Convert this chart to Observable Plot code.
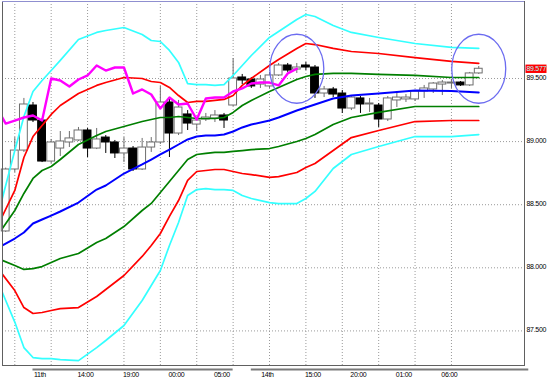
<!DOCTYPE html>
<html><head><meta charset="utf-8">
<script src="https://cdn.jsdelivr.net/npm/d3@7"></script>
<script src="https://cdn.jsdelivr.net/npm/@observablehq/plot@0.6"></script>
<style>
html,body{margin:0;padding:0;background:#fff;}
#chart svg{display:block;}
#chart text{letter-spacing:-0.3px;}
</style></head><body><div id="chart"></div>
<script>
// ---- candle data (hourly bars, index 0..52) ----
const opens  = [88.288,88.779,88.929,89.286,89.167,88.842,88.945,88.993,89.009,89.088,88.945,89.032,88.993,88.906,88.945,88.779,88.953,88.993,89.310,89.064,89.215,89.135,89.175,89.183,89.207,89.286,89.508,89.492,89.452,89.437,89.524,89.603,89.571,89.603,89.587,89.381,89.413,89.381,89.262,89.342,89.294,89.286,89.175,89.326,89.334,89.334,89.397,89.413,89.452,89.460,89.468,89.445,89.540];
const highs  = [88.790,89.032,89.342,89.310,89.183,89.017,89.080,89.080,89.112,89.104,89.104,89.048,89.009,89.032,88.961,89.025,89.032,89.437,89.349,89.326,89.246,89.191,89.223,89.246,89.223,89.658,89.532,89.508,89.524,89.548,89.619,89.619,89.619,89.627,89.603,89.437,89.429,89.405,89.365,89.357,89.342,89.302,89.357,89.381,89.373,89.405,89.445,89.468,89.484,89.492,89.476,89.548,89.595];
const lows   = [88.280,88.755,88.914,89.151,88.834,88.826,88.882,88.953,89.001,88.874,88.937,88.906,88.866,88.834,88.763,88.771,88.914,88.977,88.874,89.048,89.088,89.080,89.159,89.151,89.104,89.278,89.452,89.421,89.421,89.421,89.516,89.548,89.540,89.563,89.342,89.349,89.349,89.223,89.246,89.223,89.231,89.112,89.159,89.270,89.310,89.318,89.342,89.381,89.365,89.421,89.437,89.437,89.532];
const closes = [88.779,88.929,89.294,89.167,88.842,88.993,89.001,89.025,89.088,88.945,89.017,88.993,88.906,88.945,88.779,88.953,88.993,89.310,89.064,89.270,89.143,89.167,89.191,89.207,89.167,89.500,89.484,89.437,89.492,89.524,89.603,89.563,89.587,89.587,89.381,89.413,89.373,89.262,89.349,89.294,89.302,89.175,89.342,89.349,89.349,89.397,89.421,89.460,89.468,89.468,89.445,89.540,89.577];

// ---- Bollinger band lines, read at these bar positions ----
const bandBars = [-0.6,1,2,3,4,5,6,8,10,11,13,15,16,17,18,19,20,21,22,23,24,25,26,27,29,30,32,33,34,36,38,41,45,49,52];
const bandMid  = [88.169,88.232,88.280,88.351,88.383,88.414,88.446,88.517,88.620,88.652,88.747,88.819,88.858,88.898,88.937,88.977,89.017,89.040,89.048,89.048,89.056,89.080,89.112,89.135,89.167,89.191,89.246,89.270,89.294,89.342,89.365,89.381,89.405,89.401,89.389];
const bandUp1  = [88.288,88.454,88.589,88.708,88.771,88.803,88.858,88.977,89.048,89.080,89.120,89.159,89.175,89.191,89.191,89.199,89.191,89.183,89.183,89.183,89.191,89.231,89.286,89.326,89.397,89.429,89.492,89.516,89.532,89.540,89.540,89.532,89.524,89.508,89.508];
const bandDn1  = [88.066,88.018,87.987,87.994,88.010,88.042,88.074,88.113,88.200,88.232,88.327,88.454,88.510,88.597,88.684,88.771,88.858,88.898,88.906,88.914,88.914,88.922,88.929,88.937,88.945,88.961,89.001,89.025,89.056,89.136,89.191,89.231,89.278,89.278,89.278];
const bandUp2  = [88.375,88.613,88.874,89.040,89.128,89.215,89.286,89.381,89.445,89.468,89.508,89.500,89.476,89.468,89.429,89.365,89.310,89.318,89.318,89.326,89.334,89.365,89.445,89.500,89.603,89.651,89.738,89.777,89.769,89.738,89.714,89.698,89.666,89.635,89.619];
const bandDn2  = [87.971,87.820,87.685,87.638,87.646,87.662,87.677,87.685,87.773,87.828,87.939,88.090,88.177,88.272,88.407,88.533,88.692,88.763,88.771,88.779,88.779,88.763,88.747,88.739,88.716,88.723,88.755,88.795,88.826,88.929,89.032,89.088,89.159,89.167,89.167];
const bandUp3  = [88.486,88.929,89.199,89.397,89.484,89.563,89.643,89.809,89.865,89.880,89.904,89.849,89.801,89.793,89.722,89.627,89.460,89.452,89.452,89.445,89.452,89.524,89.603,89.682,89.825,89.872,89.968,90.007,89.991,89.920,89.865,89.825,89.777,89.746,89.738];
const bandDn3  = [87.844,87.570,87.368,87.289,87.281,87.281,87.273,87.265,87.368,87.424,87.543,87.741,87.860,87.979,88.177,88.359,88.573,88.620,88.628,88.620,88.620,88.613,88.573,88.549,88.517,88.509,88.509,88.549,88.605,88.787,88.898,88.961,89.040,89.040,89.056];

// lagging span: closes shifted back this many bars
const lagBars = 20;

// ---- axis ticks ----
const timeTickBars   = [3,8,13,18,23,28,33,38,43,48];
const timeTickLabels = ["11th","14:00","19:00","00:00","05:00","14th","15:00","20:00","01:00","06:00"];
const gridBars   = [1,5,9,13,17,21,25,29,33,37,41,45,49];
const priceTicks = [87.5,88.0,88.5,89.0,89.5];
const daySpans   = [[3,25],[27,57.5]];

// ---- build tables ----
const candles = opens.map((o,i)=>({i, open:o, high:highs[i], low:lows[i], close:closes[i]}));
const bull = d => d.close >= d.open;
const chikou = closes.map((c,i)=>({x:i-lagBars, y:c})).filter(d=>d.x >= -1);
const last = closes.length - 1;
const lastClose = closes[last];
const labelByBar = new Map(timeTickBars.map((b,k)=>[b, timeTickLabels[k]]));

const xDomain = [-0.352, 57.03];
const yDomain = [87.226, 90.110];

const ellipse = {
  draw(ctx) {
    const rx = 27, ry = 34.5, k = 0.5523, kx = rx*k, ky = ry*k;
    ctx.moveTo(rx, 0);
    ctx.bezierCurveTo(rx, ky, kx, ry, 0, ry);
    ctx.bezierCurveTo(-kx, ry, -rx, ky, -rx, 0);
    ctx.bezierCurveTo(-rx, -ky, -kx, -ry, 0, -ry);
    ctx.bezierCurveTo(kx, -ry, rx, -ky, rx, 0);
    ctx.closePath();
  }
};
const priceBox = {
  draw(ctx) {
    ctx.moveTo(1, -4.2); ctx.lineTo(22, -4.2); ctx.lineTo(22, 4.2); ctx.lineTo(1, 4.2); ctx.closePath();
  }
};

const bandLine = (vals, color, w) => Plot.line(vals, {
  x: (d,i) => bandBars[i], y: d => d, stroke: color, strokeWidth: w, clip: true
});

const chart = Plot.plot({
  width: 552, height: 380,
  marginLeft: 2, marginRight: 28, marginTop: 1, marginBottom: 15,
  style: {fontFamily: "'Liberation Sans', Arial, sans-serif", fontSize: "7px", background: "#fff", color: "#000"},
  x: {type: "linear", domain: xDomain},
  y: {type: "linear", domain: yDomain},
  color: {type: "identity"},
  marks: [
    Plot.ruleX(gridBars, {stroke: "#9a9a9a", strokeWidth: 1, strokeDasharray: "1,2"}),
    Plot.ruleY(priceTicks, {stroke: "#9a9a9a", strokeWidth: 1, strokeDasharray: "1,2"}),
    // candles
    Plot.ruleX(candles, {x: "i", y1: "low", y2: "high", stroke: d => bull(d) ? "#6e6e6e" : "#000", strokeWidth: 1}),
    Plot.rect(candles, {
      x1: d => d.i - 0.43, x2: d => d.i + 0.43, y1: "open", y2: "close",
      fill: d => bull(d) ? "#fff" : "#000", stroke: d => bull(d) ? "#6e6e6e" : "#000", strokeWidth: 1
    }),
    // bands
    bandLine(bandUp3, "#33ffff", 1.7),
    bandLine(bandDn3, "#33ffff", 1.7),
    bandLine(bandUp2, "#ff0000", 1.7),
    bandLine(bandDn2, "#ff0000", 1.7),
    bandLine(bandUp1, "#007f00", 1.7),
    bandLine(bandDn1, "#007f00", 1.7),
    bandLine(bandMid, "#0000ff", 2),
    // lagging span
    Plot.line(chikou, {x: "x", y: "y", stroke: "#ff00ff", strokeWidth: 2.4, clip: true}),
    // highlight ellipses
    Plot.dot([{x: last - lagBars, y: lastClose}, {x: last, y: lastClose}], {
      x: "x", y: "y", symbol: ellipse, fill: "none", stroke: "#6c6cf0", strokeWidth: 1.3
    }),
    Plot.frame({stroke: "#606060"}),
    Plot.ruleY([yDomain[1]], {stroke: "#8f8fd0", strokeWidth: 1.2}),
    // day underline bars
    Plot.ruleY(daySpans, {x1: d => d[0], x2: d => d[1], y: 87.194, stroke: "#7a7a7a", strokeWidth: 2}),
    // axes
    Plot.axisX(timeTickBars, {anchor: "bottom", tickSize: 0, tickPadding: 6.5, dx: 7, tickFormat: d => labelByBar.get(d), label: null, fontSize: 7, fill: "#000"}),
    Plot.axisY(priceTicks, {anchor: "right", tickSize: 0, tickPadding: 2, dy: -1, tickFormat: d => d.toFixed(3), label: null, fontSize: 7, fill: "#000"}),
    // current price label
    Plot.dot([lastClose], {y: d => d, frameAnchor: "right", symbol: priceBox, fill: "#ff0000", stroke: null}),
    Plot.text([lastClose], {y: d => d, frameAnchor: "right", text: d => d.toFixed(3), textAnchor: "start", dx: 2, fill: "#a8ffff", fontSize: 7})
  ]
});
document.getElementById("chart").appendChild(chart);
</script>
</body></html>
